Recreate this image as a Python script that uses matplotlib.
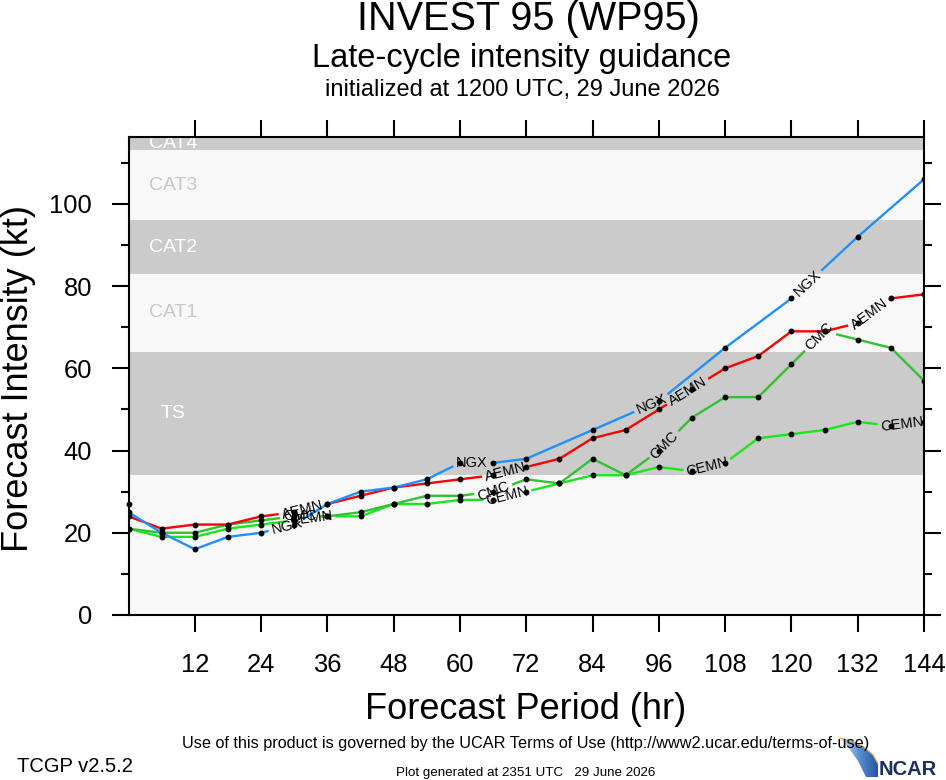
import numpy as np
import matplotlib
matplotlib.use('Agg')
import matplotlib.pyplot as plt
from matplotlib.patches import Polygon
from matplotlib.colors import LinearSegmentedColormap

plt.rcParams['font.family'] = ['Liberation Sans', 'DejaVu Sans']

# forecast hours (6-hourly) and intensities in kt
hours = [0, 6, 12, 18, 24, 30, 36, 42, 48, 54, 60, 66, 72, 78, 84, 90, 96,
         102, 108, 114, 120, 126, 132, 138, 144]
aemn_kt = [24, 21, 22, 22, 24, 25, 27, 29, 31, 32, 33, 34, 36, 38, 43, 45, 50,
           55, 60, 63, 69, 69, 71, 77, 78]
cmc_kt = [21, 20, 20, 22, 23, 24, 24, 25, 27, 29, 29, 30, 33, 32, 38, 34, 40,
          48, 53, 53, 61, 69, 67, 65, 57]
cemn_kt = [21, 19, 19, 21, 22, 23, 24, 24, 27, 27, 28, 28, 30, 32, 34, 34, 36,
           35, 37, 43, 44, 45, 47, 46, 47]
ngx_hours = [0, 6, 12, 18, 24, 30, 36, 42, 48, 54, 60, 66, 72, 84, 96, 108,
             120, 132, 144]
ngx_kt = [25, 20, 16, 19, 20, 22, 27, 30, 31, 33, 37, 37, 38, 45, 52, 65,
          77, 92, 106]
init_hours = [0]
init_kt = [27]

# Saffir-Simpson style bands
band_names = ['TS', 'CAT1', 'CAT2', 'CAT3', 'CAT4']
band_lo = [34, 64, 83, 96, 113]
band_hi = [64, 83, 96, 113, 137]

x_ticks = [12, 24, 36, 48, 60, 72, 84, 96, 108, 120, 132, 144]
y_ticks = [0, 20, 40, 60, 80, 100]
y_minor = [10, 30, 50, 70, 90, 110]

# where the inline model labels sit (forecast hour)
label_at = {
    'CEMN': [33, 68.6, 104.8, 140],
    'CMC': [31, 66.1, 97, 125],
    'AEMN': [31.5, 68.3, 101.2, 134.1],
    'NGX': [28.7, 62.1, 94.7, 122.9],
}

W, H = 946, 780
fig = plt.figure(figsize=(W / 100, H / 100), dpi=100)
fig.patch.set_facecolor('white')

def fx(px):
    return px / W

def fy(py):
    return 1 - py / H

ax_l, ax_r, ax_t, ax_b = 128.5, 924, 137.3, 615
ax = fig.add_axes([fx(ax_l), fy(ax_b), (ax_r - ax_l) / W, (ax_b - ax_t) / H])
ax.set_xlim(0, 144)
ax.set_ylim(0, 116.2)
ax.set_facecolor('#f8f8f8')

for i, (name, lo, hi) in enumerate(zip(band_names, band_lo, band_hi)):
    dark = i % 2 == 0
    ax.axhspan(lo, hi, color='#cbcbcb' if dark else '#f8f8f8', zorder=0, lw=0)
    yc = (lo + min(hi, 116.2)) / 2
    ax.text(8, yc, name, ha='center', va='center', fontsize=14,
            color='white' if dark else '#c8c8c8', clip_on=True, zorder=1)

ax.set_xticks(x_ticks)
ax.set_xticklabels([str(t) for t in x_ticks])
ax.set_yticks(y_ticks)
ax.set_yticks(y_minor, minor=True)
ax.tick_params(which='both', direction='out', top=True, right=True,
               labeltop=False, labelright=False, width=1.5, labelsize=18.4)
ax.tick_params(which='major', length=12.2)
ax.tick_params(which='minor', length=6)
ax.tick_params(axis='x', pad=15)
ax.tick_params(axis='y', pad=14)
for sp in ax.spines.values():
    sp.set_linewidth(1.5)

renderer = fig.canvas.get_renderer()


def draw_model(hrs, kts, color, name):
    hrs = np.asarray(hrs, float)
    pts = ax.transData.transform(np.column_stack([hrs, kts]))
    d = np.diff(pts, axis=0)
    cum = np.concatenate([[0.0], np.cumsum(np.hypot(d[:, 0], d[:, 1]))])
    inv = ax.transData.inverted()
    gaps = []
    for lh in label_at[name]:
        s = np.interp(lh, hrs, cum)
        i = min(np.searchsorted(cum, s, side='right') - 1, len(d) - 1)
        ang = np.degrees(np.arctan2(d[i, 1], d[i, 0]))
        cx = np.interp(s, cum, pts[:, 0])
        cy = np.interp(s, cum, pts[:, 1])
        x, y = inv.transform((cx, cy))
        t = ax.text(x, y, name, rotation=ang, rotation_mode='anchor',
                    ha='center', va='center', fontsize=10.5, color='black',
                    zorder=5)
        w, h, _ = renderer.get_text_width_height_descent(
            name, t.get_fontproperties(), ismath=False)
        gaps.append((s - w / 2 - 3, s + w / 2 + 3))
    keep = [(0.0, cum[-1])]
    for a, b in sorted(gaps):
        new = []
        for lo, hi in keep:
            if b <= lo or a >= hi:
                new.append((lo, hi))
                continue
            if a > lo:
                new.append((lo, a))
            if b < hi:
                new.append((b, hi))
        keep = new
    for lo, hi in keep:
        inner = (cum > lo) & (cum < hi)
        ss = np.concatenate([[lo], cum[inner], [hi]])
        xy = np.column_stack([np.interp(ss, cum, pts[:, 0]),
                              np.interp(ss, cum, pts[:, 1])])
        xy = inv.transform(xy)
        ax.plot(xy[:, 0], xy[:, 1], color=color, lw=1.7,
                solid_capstyle='butt', zorder=3)
    ax.plot(hrs, kts, linestyle='none', marker='o', ms=3.2, color='black',
            zorder=6)


draw_model(hours, cemn_kt, '#18e818', 'CEMN')
draw_model(hours, cmc_kt, '#33c133', 'CMC')
draw_model(hours, aemn_kt, '#ff0000', 'AEMN')
draw_model(ngx_hours, ngx_kt, '#1e90ff', 'NGX')
ax.plot(init_hours, init_kt, linestyle='none', marker='o', ms=3.2,
        color='black', zorder=6, clip_on=False)

# titles
cx = 528
fig.text(fx(cx), fy(30), 'INVEST 95 (WP95)', ha='center', va='baseline',
         fontsize=28.5)
fig.text(fx(cx - 6), fy(67), 'Late-cycle intensity guidance', ha='center',
         va='baseline', fontsize=23.5)
fig.text(fx(cx - 6), fy(96), 'initialized at 1200 UTC, 29 June 2026',
         ha='center', va='baseline', fontsize=17)

# axis titles
fig.text(fx(526), fy(719), 'Forecast Period (hr)', ha='center',
         va='baseline', fontsize=26)
fig.text(fx(28), fy(378), 'Forecast Intensity (kt)', rotation=90,
         rotation_mode='anchor', ha='center', va='baseline', fontsize=26)

# footer
fig.text(fx(526), fy(748),
         'Use of this product is governed by the UCAR Terms of Use '
         '(http://www2.ucar.edu/terms-of-use)',
         ha='center', va='baseline', fontsize=11.7)
fig.text(fx(526), fy(776), 'Plot generated at 2351 UTC   29 June 2026',
         ha='center', va='baseline', fontsize=9.6)
fig.text(fx(17), fy(772), 'TCGP v2.5.2', ha='left', va='baseline',
         fontsize=14.5)

# NCAR logo
lax = fig.add_axes([fx(836), 0, 44 / W, 46 / H])
lax.set_xlim(836, 880)
lax.set_ylim(780, 734)
lax.axis('off')
blues = LinearSegmentedColormap.from_list(
    'swoosh', ['#e4edf8', '#5b8fd0', '#1f4f9e'])
grad = np.linspace(0, 1, 64)[None, :]
img = lax.imshow(grad, cmap=blues, extent=(838, 880, 780, 736),
                 aspect='auto')
swoosh = Polygon([(840, 738), (852, 741), (864, 747), (873, 755),
                  (878, 764), (878, 777), (866, 777), (858, 761),
                  (848, 747)], closed=True, transform=lax.transData,
                 facecolor='none', edgecolor='none')
lax.add_patch(swoosh)
img.set_clip_path(swoosh)
lax.plot([840, 852, 864, 873, 878], [738, 741, 747, 755, 764],
         color='#f0a040', lw=0.8)
fig.text(fx(879), fy(775), 'NCAR', ha='left', va='baseline', fontsize=14.5,
         fontweight='bold', color='#1c2f5e')

fig.savefig('out.png', dpi=100)
